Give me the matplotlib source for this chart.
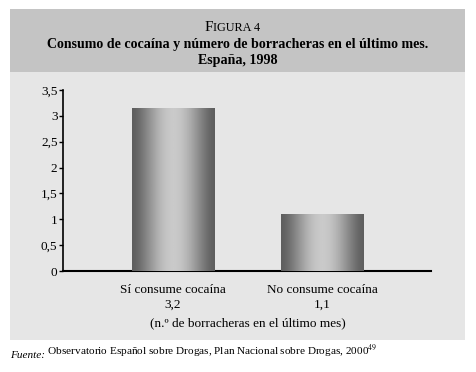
import matplotlib
matplotlib.use("Agg")
import matplotlib.pyplot as plt
import numpy as np
from matplotlib.patches import Rectangle

# data
categories = ["Sí consume cocaína", "No consume cocaína"]
values = [3.15, 1.1]
value_labels = ["3,2", "1,1"]
yticks = [0, 0.5, 1, 1.5, 2, 2.5, 3, 3.5]
ytick_labels = ["0", "0,5", "1", "1,5", "2", "2,5", "3", "3,5"]

plt.rcParams['font.family'] = 'Liberation Serif'
plt.rcParams['mathtext.fontset'] = 'stix'

fig = plt.figure(figsize=(4.76, 3.72), dpi=100)
fig.patch.set_facecolor('white')

# background panels (behind the axes)
fig.patches.append(Rectangle((0.021, 0.086), 0.956, 0.72, transform=fig.transFigure,
                             facecolor='#e6e6e6', edgecolor='none', zorder=-2))
fig.patches.append(Rectangle((0.021, 0.806), 0.956, 0.170, transform=fig.transFigure,
                             facecolor='#c4c4c4', edgecolor='none', zorder=-2))

ax = fig.add_axes([63 / 476, 1 - 271 / 372, (431 - 63) / 476, (271 - 90) / 372])
ax.set_facecolor('none')

# title: small caps "FIGURA 4"
t1 = fig.text(0.430, 0.918, "F", fontsize=11, ha='left', va='baseline')
ax.annotate("IGURA 4", xy=(1, 0), xycoords=t1, fontsize=8.8, ha='left', va='bottom',
            annotation_clip=False)
fig.text(0.5, 0.870, "Consumo de cocaína y número de borracheras en el último mes.",
         fontsize=10.1, fontweight='bold', ha='center', va='baseline')
fig.text(0.5, 0.829, "España, 1998", fontsize=10.1, fontweight='bold',
         ha='center', va='baseline')

x = np.arange(len(categories))
width = 0.555
bars = ax.bar(x, values, width, color='#999999', edgecolor='none', zorder=2)

# cylinder-like gradient on the bars
prof = np.cos(np.linspace(-np.pi / 2, np.pi / 2, 200))
shade = 0.37 + 0.42 * prof ** 1.5
grad = np.tile(shade, (2, 1))
for b in bars:
    x0, w, h = b.get_x(), b.get_width(), b.get_height()
    im = ax.imshow(grad, cmap='gray', vmin=0, vmax=1, aspect='auto',
                   extent=(x0, x0 + w, 0, h), zorder=3, interpolation='bilinear')
    im.set_clip_path(b)

ax.set_xlim(-0.736, 1.726)
ax.set_ylim(0, 3.5)
ax.set_yticks(yticks)
ax.set_yticklabels(ytick_labels, fontsize=9.5)
ax.set_xticks([])
ax.tick_params(axis='y', direction='out', length=3, width=1, pad=1)
for s in ['top', 'right']:
    ax.spines[s].set_visible(False)
ax.spines['left'].set_linewidth(1.2)
ax.spines['bottom'].set_linewidth(1.5)

for xi, cat, lab in zip(x, categories, value_labels):
    ax.annotate(cat, xy=(xi, 0), xytext=(0, -13.5), textcoords='offset points',
                ha='center', va='center', fontsize=9.5, annotation_clip=False)
    ax.annotate(lab, xy=(xi, 0), xytext=(0, -24), textcoords='offset points',
                ha='center', va='center', fontsize=9.5, annotation_clip=False)

fig.text(248 / 476, 1 - 323 / 372, "(n.º de borracheras en el último mes)",
         fontsize=9.5, ha='center', va='center')

# footnote
f1 = fig.text(10 / 476, 1 - 358 / 372, "Fuente:", fontsize=8.1, style='italic',
              ha='left', va='baseline')
ax.annotate(" Observatorio Español sobre Drogas, Plan Nacional sobre Drogas, 2000$^{49}$",
            xy=(1, 0), xycoords=f1, fontsize=8.1, ha='left', va='bottom',
            annotation_clip=False)

fig.savefig("out.png", dpi=100)
